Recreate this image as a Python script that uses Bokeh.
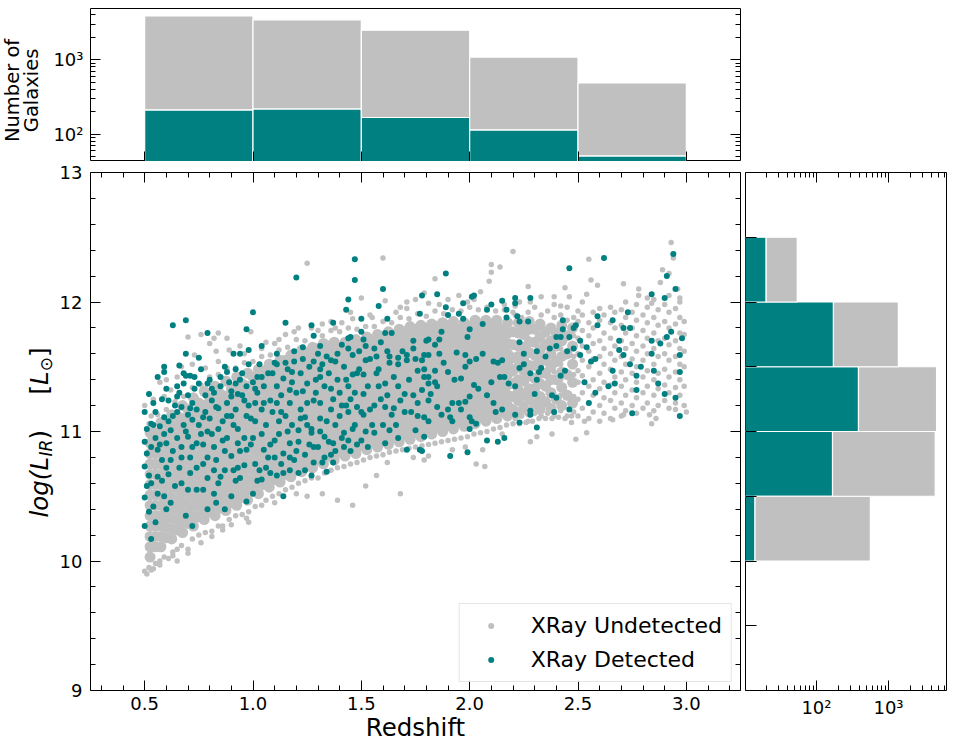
import math
from bokeh.plotting import figure
from bokeh.models import (Range1d, FixedTicker, LinearAxis, LogAxis, Label, Legend,
                          LegendItem, CustomJSTickFormatter, PrintfTickFormatter)
from bokeh.layouts import column, row
from bokeh.embed import file_html
from bokeh.resources import INLINE

GRAY = "#c0c0c0"
TEAL = "#008080"
FONT = "DejaVu Sans"

# ---------------- histogram data ----------------
z_bin_edges = [0.5, 1.0, 1.5, 2.0, 2.5, 3.0]
z_hist_detected = [212, 218, 167, 114, 51]
z_hist_undetected = [3668, 3222, 2323, 969, 435]

lir_bin_edges = [10.0, 10.5, 11.0, 11.5, 12.0, 12.5]
lir_hist_detected = [14, 167, 383, 172, 20]
lir_hist_undetected = [546, 4283, 4267, 1198, 34]

# ---------------- tick values ----------------
x_ticks = [0.5, 1.0, 1.5, 2.0, 2.5, 3.0]
y_ticks = [9, 10, 11, 12, 13]
count_ticks = [100, 1000]
lir_bin_ticks = [9.0, 9.5, 10.0, 10.5, 11.0, 11.5, 12.0, 12.5, 13.0]

# ---------------- scatter: X-ray undetected, dense core (by redshift column) ----------------
undet_core_z = [0.525, 0.55, 0.575, 0.60, 0.625, 0.65, 0.675, 0.70, 0.725, 0.75, 0.775, 0.80,
                0.825, 0.85, 0.875, 0.90, 0.925, 0.95, 0.975, 1.00, 1.025, 1.05, 1.075, 1.10,
                1.125, 1.15, 1.175, 1.20, 1.225, 1.25, 1.275, 1.30, 1.325, 1.35, 1.375, 1.40,
                1.425, 1.45, 1.475, 1.50, 1.525, 1.55, 1.575, 1.60, 1.625, 1.65, 1.675, 1.70,
                1.725, 1.75, 1.775, 1.80, 1.825, 1.85, 1.875, 1.90, 1.925, 1.95, 1.975, 2.00,
                2.025, 2.05, 2.075, 2.10, 2.125, 2.15, 2.175, 2.20, 2.225, 2.25, 2.275, 2.30,
                2.325, 2.35, 2.375, 2.40, 2.425, 2.45, 2.475]
undet_core_L = [
    [10.03, 10.11, 10.19, 10.27, 10.35, 10.43, 10.51, 10.59, 10.67, 10.75, 10.83, 10.91, 10.99],
    [10.11, 10.19, 10.27, 10.35, 10.43, 10.51, 10.59, 10.67, 10.75, 10.83, 10.91, 10.99],
    [10.11, 10.19, 10.27, 10.35, 10.43, 10.51, 10.59, 10.67, 10.75, 10.83, 10.91, 10.99, 11.07],
    [10.18, 10.26, 10.34, 10.42, 10.50, 10.58, 10.66, 10.74, 10.82, 10.90, 10.98, 11.06],
    [10.17, 10.25, 10.33, 10.41, 10.49, 10.57, 10.65, 10.73, 10.81, 10.89, 10.97, 11.05, 11.13],
    [10.24, 10.32, 10.40, 10.48, 10.56, 10.64, 10.72, 10.80, 10.88, 10.96, 11.04, 11.12],
    [10.22, 10.30, 10.38, 10.46, 10.54, 10.62, 10.70, 10.78, 10.86, 10.94, 11.02, 11.10, 11.20],
    [10.29, 10.37, 10.45, 10.53, 10.61, 10.69, 10.77, 10.85, 10.93, 11.01, 11.09, 11.17],
    [10.27, 10.35, 10.43, 10.51, 10.59, 10.67, 10.75, 10.83, 10.91, 10.99, 11.07, 11.15, 11.26],
    [10.34, 10.42, 10.50, 10.58, 10.66, 10.74, 10.82, 10.90, 10.98, 11.06, 11.14, 11.22],
    [10.32, 10.40, 10.48, 10.56, 10.64, 10.72, 10.80, 10.88, 10.96, 11.04, 11.12, 11.20, 11.31],
    [10.38, 10.46, 10.54, 10.62, 10.70, 10.78, 10.86, 10.94, 11.02, 11.10, 11.18, 11.26],
    [10.35, 10.43, 10.51, 10.59, 10.67, 10.75, 10.83, 10.91, 10.99, 11.07, 11.15, 11.23, 11.35],
    [10.41, 10.49, 10.57, 10.65, 10.73, 10.81, 10.89, 10.97, 11.05, 11.13, 11.21, 11.29],
    [10.39, 10.47, 10.55, 10.63, 10.71, 10.79, 10.87, 10.95, 11.03, 11.11, 11.19, 11.27, 11.39],
    [10.45, 10.53, 10.61, 10.69, 10.77, 10.85, 10.93, 11.01, 11.09, 11.17, 11.25, 11.33],
    [10.43, 10.51, 10.59, 10.67, 10.75, 10.83, 10.91, 10.99, 11.07, 11.15, 11.23, 11.31, 11.42],
    [10.49, 10.57, 10.65, 10.73, 10.81, 10.89, 10.97, 11.05, 11.13, 11.21, 11.29, 11.37],
    [10.47, 10.55, 10.63, 10.71, 10.79, 10.87, 10.95, 11.03, 11.11, 11.19, 11.27, 11.35, 11.45],
    [10.54, 10.62, 10.70, 10.78, 10.86, 10.94, 11.02, 11.10, 11.18, 11.26, 11.34, 11.42],
    [10.52, 10.60, 10.68, 10.76, 10.84, 10.92, 11.00, 11.08, 11.16, 11.24, 11.32, 11.40, 11.48],
    [10.59, 10.67, 10.75, 10.83, 10.91, 10.99, 11.07, 11.15, 11.23, 11.31, 11.39, 11.47],
    [10.57, 10.65, 10.73, 10.81, 10.89, 10.97, 11.05, 11.13, 11.21, 11.29, 11.37, 11.45, 11.52],
    [10.63, 10.71, 10.79, 10.87, 10.95, 11.03, 11.11, 11.19, 11.27, 11.35, 11.43, 11.51],
    [10.61, 10.69, 10.77, 10.85, 10.93, 11.01, 11.09, 11.17, 11.25, 11.33, 11.41, 11.49, 11.55],
    [10.67, 10.75, 10.83, 10.91, 10.99, 11.07, 11.15, 11.23, 11.31, 11.39, 11.47, 11.55],
    [10.65, 10.73, 10.81, 10.89, 10.97, 11.05, 11.13, 11.21, 11.29, 11.37, 11.45, 11.53, 11.59],
    [10.71, 10.79, 10.87, 10.95, 11.03, 11.11, 11.19, 11.27, 11.35, 11.43, 11.51, 11.59],
    [10.69, 10.77, 10.85, 10.93, 11.01, 11.09, 11.17, 11.25, 11.33, 11.41, 11.49, 11.57, 11.63],
    [10.75, 10.83, 10.91, 10.99, 11.07, 11.15, 11.23, 11.31, 11.39, 11.47, 11.55, 11.61],
    [10.72, 10.80, 10.88, 10.96, 11.04, 11.12, 11.20, 11.28, 11.36, 11.44, 11.52, 11.60, 11.65],
    [10.78, 10.86, 10.94, 11.02, 11.10, 11.18, 11.26, 11.34, 11.42, 11.50, 11.58, 11.64],
    [10.75, 10.83, 10.91, 10.99, 11.07, 11.15, 11.23, 11.31, 11.39, 11.47, 11.55, 11.63, 11.68],
    [10.81, 10.89, 10.97, 11.05, 11.13, 11.21, 11.29, 11.37, 11.45, 11.53, 11.61, 11.66],
    [10.78, 10.86, 10.94, 11.02, 11.10, 11.18, 11.26, 11.34, 11.42, 11.50, 11.58, 11.66, 11.69],
    [10.84, 10.92, 11.00, 11.08, 11.16, 11.24, 11.32, 11.40, 11.48, 11.56, 11.64],
    [10.81, 10.89, 10.97, 11.05, 11.13, 11.21, 11.29, 11.37, 11.45, 11.53, 11.61, 11.69],
    [10.86, 10.94, 11.02, 11.10, 11.18, 11.26, 11.34, 11.42, 11.50, 11.58, 11.66],
    [10.83, 10.91, 10.99, 11.07, 11.15, 11.23, 11.31, 11.39, 11.47, 11.55, 11.63, 11.71],
    [10.89, 10.97, 11.05, 11.13, 11.21, 11.29, 11.37, 11.45, 11.53, 11.61, 11.69],
    [10.86, 10.94, 11.02, 11.10, 11.18, 11.26, 11.34, 11.42, 11.50, 11.58, 11.66, 11.73],
    [10.91, 10.99, 11.07, 11.15, 11.23, 11.31, 11.39, 11.47, 11.55, 11.63, 11.71],
    [10.88, 10.96, 11.04, 11.12, 11.20, 11.28, 11.36, 11.44, 11.52, 11.60, 11.68, 11.75],
    [10.93, 11.01, 11.09, 11.17, 11.25, 11.33, 11.41, 11.49, 11.57, 11.65, 11.73],
    [10.90, 10.98, 11.06, 11.14, 11.22, 11.30, 11.38, 11.46, 11.54, 11.62, 11.70, 11.77],
    [10.95, 11.03, 11.11, 11.19, 11.27, 11.35, 11.43, 11.51, 11.59, 11.67, 11.75],
    [10.92, 11.00, 11.08, 11.16, 11.24, 11.32, 11.40, 11.48, 11.56, 11.64, 11.72, 11.79],
    [10.97, 11.05, 11.13, 11.21, 11.29, 11.37, 11.45, 11.53, 11.61, 11.69, 11.77],
    [10.94, 11.02, 11.10, 11.18, 11.26, 11.34, 11.42, 11.50, 11.58, 11.66, 11.74, 11.81],
    [10.99, 11.07, 11.15, 11.23, 11.31, 11.39, 11.47, 11.55, 11.63, 11.71, 11.79],
    [10.96, 11.04, 11.12, 11.20, 11.28, 11.36, 11.44, 11.52, 11.60, 11.68, 11.76, 11.82],
    [11.01, 11.09, 11.17, 11.25, 11.33, 11.41, 11.49, 11.57, 11.65, 11.73, 11.80],
    [10.98, 11.06, 11.14, 11.22, 11.30, 11.38, 11.46, 11.54, 11.62, 11.70, 11.78, 11.83],
    [11.03, 11.11, 11.19, 11.27, 11.35, 11.43, 11.51, 11.59, 11.67, 11.75, 11.81],
    [11.00, 11.08, 11.16, 11.24, 11.32, 11.40, 11.48, 11.56, 11.64, 11.72, 11.80, 11.84],
    [11.05, 11.13, 11.21, 11.29, 11.37, 11.45, 11.53, 11.61, 11.69, 11.77, 11.82],
    [11.02, 11.10, 11.18, 11.26, 11.34, 11.42, 11.50, 11.58, 11.66, 11.74, 11.82, 11.85],
    [11.07, 11.15, 11.23, 11.31, 11.39, 11.47, 11.55, 11.63, 11.71, 11.79],
    [11.04, 11.12, 11.20, 11.28, 11.36, 11.44, 11.52, 11.60, 11.68, 11.76, 11.84],
    [11.09, 11.17, 11.25, 11.33, 11.41, 11.49, 11.57, 11.65, 11.73, 11.81],
    [11.06, 11.14, 11.22, 11.30, 11.38, 11.46, 11.54, 11.62, 11.70, 11.78, 11.86],
    [11.11, 11.19, 11.27, 11.35, 11.43, 11.51, 11.59, 11.67, 11.75, 11.83],
    [11.08, 11.16, 11.24, 11.32, 11.40, 11.48, 11.56, 11.64, 11.72, 11.80, 11.86],
    [11.13, 11.21, 11.29, 11.37, 11.45, 11.53, 11.61, 11.69, 11.77, 11.83],
    [11.10, 11.18, 11.26, 11.34, 11.42, 11.50, 11.58, 11.66, 11.74, 11.82, 11.86],
    [11.15, 11.23, 11.31, 11.39, 11.47, 11.55, 11.63, 11.71, 11.79],
    [11.12, 11.20, 11.28, 11.36, 11.44, 11.52, 11.60, 11.68, 11.76, 11.84],
    [11.17, 11.27, 11.37, 11.47, 11.57, 11.67, 11.77],
    [11.14, 11.24, 11.32, 11.40, 11.50, 11.58, 11.66, 11.76, 11.84],
    [11.19, 11.29, 11.39, 11.47, 11.55, 11.65, 11.75, 11.82],
    [11.15, 11.25, 11.33, 11.43, 11.51, 11.61, 11.69, 11.79, 11.85],
    [11.21, 11.33, 11.41, 11.51, 11.59, 11.69, 11.79],
    [11.17, 11.27, 11.37, 11.45, 11.55, 11.63, 11.73, 11.83],
    [11.23, 11.35, 11.45, 11.55, 11.67, 11.77],
    [11.18, 11.30, 11.40, 11.50, 11.60, 11.70, 11.80],
    [11.25, 11.40, 11.54, 11.66, 11.76],
    [11.20, 11.34, 11.46, 11.58, 11.70, 11.82],
    [11.28, 11.44, 11.60, 11.74],
    [11.22, 11.38, 11.52, 11.66, 11.80],
]

# ---------------- scatter: X-ray undetected, sparser high-z part (by column) ----------------
undet_far_z = [2.21, 2.24, 2.27, 2.30, 2.33, 2.36, 2.39, 2.42, 2.45, 2.48,
               2.50, 2.52, 2.55, 2.57, 2.60, 2.62, 2.65, 2.67, 2.70, 2.72,
               2.75, 2.77, 2.80, 2.82, 2.85, 2.87, 2.90, 2.92, 2.95, 2.97, 2.99]
undet_far_L = [
    [11.10, 11.90, 11.97],
    [11.12, 11.30, 11.56, 11.88],
    [11.08, 11.42, 11.72, 11.92],
    [11.14, 11.34, 11.60, 11.96],
    [11.12, 11.22, 11.52, 11.80, 11.90],
    [11.14, 11.36, 11.56, 11.76, 11.93],
    [11.12, 11.25, 11.46, 11.66, 11.88, 11.98],
    [11.16, 11.28, 11.40, 11.52, 11.64, 11.76, 11.90],
    [11.12, 11.30, 11.45, 11.58, 11.72, 11.86, 11.96],
    [11.15, 11.27, 11.44, 11.58, 11.74, 11.88],
    [11.12, 11.25, 11.38, 11.47, 11.60, 11.72, 11.85, 11.93],
    [11.18, 11.30, 11.43, 11.55, 11.66, 11.78, 11.90, 12.00],
    [11.10, 11.22, 11.35, 11.50, 11.62, 11.74, 11.84],
    [11.15, 11.28, 11.40, 11.56, 11.68, 11.80, 11.92],
    [11.08, 11.20, 11.33, 11.45, 11.58, 11.70, 11.86, 11.95],
    [11.14, 11.26, 11.38, 11.52, 11.64, 11.76, 11.90],
    [11.10, 11.24, 11.36, 11.48, 11.60, 11.72, 11.84, 11.96],
    [11.18, 11.30, 11.42, 11.55, 11.66, 11.80, 11.92],
    [11.12, 11.22, 11.35, 11.46, 11.58, 11.70, 11.82, 11.94],
    [11.16, 11.28, 11.40, 11.52, 11.64, 11.76, 11.88, 12.00],
    [11.20, 11.32, 11.45, 11.56, 11.68, 11.80, 11.92],
    [11.14, 11.26, 11.38, 11.50, 11.62, 11.74, 11.86, 11.98],
    [11.18, 11.30, 11.42, 11.55, 11.66, 11.78, 11.90],
    [11.22, 11.35, 11.47, 11.60, 11.72, 11.84, 11.96],
    [11.16, 11.28, 11.40, 11.52, 11.64, 11.76, 11.88, 12.02],
    [11.20, 11.33, 11.45, 11.58, 11.70, 11.82, 11.94],
    [11.24, 11.36, 11.48, 11.60, 11.72, 11.85, 11.98],
    [11.18, 11.30, 11.42, 11.55, 11.67, 11.80, 11.92, 12.05],
    [11.22, 11.34, 11.46, 11.58, 11.70, 11.83, 11.95],
    [11.28, 11.40, 11.52, 11.64, 11.76, 11.88, 12.00],
    [11.20, 11.35, 11.50, 11.62, 11.75, 11.85],
]

# ---------------- scatter: X-ray undetected, upper edge and outliers (z, L) ----------------
undet_upper = [
    (0.52, 11.06), (0.56, 11.13), (0.60, 11.17), (0.64, 11.23), (0.68, 11.27), (0.72, 11.34),
    (0.76, 11.36), (0.80, 11.42), (0.84, 11.44), (0.88, 11.49), (0.92, 11.49), (0.96, 11.53),
    (1.00, 11.54), (1.04, 11.58), (1.08, 11.59), (1.12, 11.63), (1.16, 11.65), (1.20, 11.71),
    (1.24, 11.70), (1.28, 11.74), (1.32, 11.74), (1.36, 11.78), (1.40, 11.77), (1.44, 11.80),
    (1.48, 11.79), (1.52, 11.81), (1.56, 11.81), (1.60, 11.85), (1.64, 11.84), (1.68, 11.88),
    (1.72, 11.87), (1.76, 11.91), (1.80, 11.89), (1.84, 11.93), (1.88, 11.91), (1.92, 11.94),
    (1.96, 11.93), (2.00, 11.96), (2.04, 11.94), (2.08, 11.96), (2.12, 11.93), (2.16, 11.94),
    (2.20, 11.92), (1.25, 12.30), (1.60, 12.34), (1.50, 12.03), (1.61, 12.01), (1.75, 12.02),
    (1.79, 12.07), (1.71, 11.95), (1.46, 11.87), (1.54, 11.90), (1.41, 11.84), (1.36, 11.85),
    (1.19, 11.77), (1.21, 11.80), (0.99, 11.77), (0.94, 11.66), (0.84, 11.76), (0.82, 11.72),
    (0.70, 11.73), (0.73, 11.59), (0.83, 11.62), (0.89, 11.63), (1.06, 11.69), (1.12, 11.71),
    (1.27, 11.80), (1.32, 11.83), (1.45, 11.92), (1.68, 11.96), (1.71, 12.00), (1.81, 11.99),
    (0.50, 11.20), (0.54, 11.25), (0.59, 11.27), (0.57, 11.38), (0.60, 11.40), (0.65, 11.42),
    (0.72, 11.52), (0.78, 11.49), (0.84, 11.54), (0.96, 11.60), (1.04, 11.64), (1.10, 11.68),
    (1.15, 11.75), (2.20, 12.39), (2.55, 12.33), (2.14, 12.27), (2.10, 12.23), (2.09, 12.16),
    (1.84, 12.18), (2.27, 12.12), (2.44, 12.11), (2.56, 12.17), (2.59, 12.13), (2.54, 12.06),
    (2.71, 12.14), (2.78, 12.10), (2.88, 12.15), (2.93, 12.46), (2.94, 12.34), (2.89, 12.25),
    (2.92, 12.22), (2.96, 12.10), (2.97, 12.03), (2.82, 12.03), (2.78, 12.05), (2.84, 11.99),
    (2.46, 12.04), (2.39, 12.04), (2.42, 11.97), (2.33, 12.04), (2.28, 12.00), (2.23, 12.00),
    (2.10, 12.29), (1.95, 12.05), (2.05, 12.08), (1.90, 12.02), (1.66, 11.92), (1.55, 11.88),
    (0.88, 11.72), (0.76, 11.75), (0.80, 11.68), (0.67, 11.50), (0.62, 11.32), (0.53, 11.12),
    (1.30, 11.78), (1.38, 11.80), (1.86, 11.98), (1.99, 12.00), (2.02, 12.02), (2.16, 11.98),
]

# ---------------- scatter: X-ray undetected, lower edge and outliers (z, L) ----------------
undet_lower = [
    (0.50, 9.92), (0.51, 9.90), (0.52, 9.95), (0.53, 9.93), (0.55, 9.98), (0.57, 10.00),
    (0.59, 10.03), (0.61, 10.02), (0.63, 10.07), (0.65, 10.09), (0.67, 10.12), (0.70, 10.09),
    (0.72, 10.17), (0.75, 10.20), (0.78, 10.22), (0.81, 10.23), (0.84, 10.27), (0.86, 10.27),
    (0.89, 10.32), (0.92, 10.35), (0.95, 10.36), (0.98, 10.38), (1.01, 10.42), (1.04, 10.43),
    (1.06, 10.47), (1.09, 10.50), (1.12, 10.52), (1.15, 10.55), (1.18, 10.57), (1.21, 10.60),
    (1.24, 10.62), (1.27, 10.64), (1.30, 10.64), (1.33, 10.68), (1.36, 10.70), (1.39, 10.72),
    (1.42, 10.73), (1.45, 10.75), (1.48, 10.76), (1.51, 10.78), (1.54, 10.80), (1.57, 10.81),
    (1.60, 10.82), (1.63, 10.84), (1.66, 10.85), (1.69, 10.86), (1.72, 10.87), (1.75, 10.88),
    (1.78, 10.89), (1.81, 10.90), (1.84, 10.91), (1.87, 10.92), (1.90, 10.93), (1.93, 10.94),
    (1.96, 10.95), (1.99, 10.96), (2.02, 10.98), (2.05, 10.99), (2.08, 11.00), (2.11, 11.02),
    (2.14, 11.03), (2.17, 11.05), (2.20, 11.06), (2.23, 11.06), (2.26, 11.07), (2.29, 11.08),
    (2.32, 11.10), (2.35, 11.10), (2.38, 11.10), (2.41, 11.11), (2.44, 11.10), (2.47, 11.12),
    (1.57, 10.66), (1.68, 10.52), (1.46, 10.43), (1.39, 10.47), (1.32, 10.52), (1.25, 10.50),
    (1.52, 10.58), (0.97, 10.33), (0.90, 10.28), (0.86, 10.24), (0.81, 10.19), (0.70, 10.06),
    (0.63, 10.04), (0.57, 9.97), (0.65, 10.00), (0.98, 10.30), (2.07, 10.73), (2.03, 10.75),
    (2.06, 10.86), (1.92, 10.86), (1.81, 10.81), (1.79, 10.78), (2.28, 10.92), (2.31, 10.96),
    (2.38, 10.98), (2.49, 10.94), (2.54, 10.99), (2.47, 11.07), (2.53, 11.08), (2.66, 11.09),
    (2.71, 11.13), (2.83, 11.13), (2.84, 11.06), (2.86, 11.10), (3.00, 11.15), (2.95, 11.17),
    (1.10, 10.45), (1.20, 10.52), (1.62, 10.76), (1.74, 10.80), (1.98, 10.88), (2.15, 10.98),
    (0.76, 10.14), (0.54, 9.94),
]

# ---------------- scatter: X-ray detected (z, L) ----------------
det_lowz = [
    (1.47, 12.33), (1.20, 12.19), (1.47, 12.17), (1.60, 12.10), (1.44, 12.02), (1.43, 11.94),
    (1.58, 11.97), (1.62, 11.87), (1.50, 11.87), (1.00, 11.92), (0.69, 11.86), (0.63, 11.82),
    (0.79, 11.76), (0.97, 11.79), (1.15, 11.84), (1.27, 11.82), (1.37, 11.84), (1.78, 12.05),
    (1.77, 11.91), (1.50, 11.77), (1.45, 11.73), (1.51, 11.71), (1.28, 11.74), (1.61, 11.76),
    (1.64, 11.76), (1.59, 11.69), (1.04, 11.66), (0.98, 11.63), (0.94, 11.60), (0.91, 11.60),
    (0.69, 11.60), (0.75, 11.57), (1.31, 11.66), (1.34, 11.58), (1.41, 11.67), (1.39, 11.60),
    (1.44, 11.64), (1.46, 11.59), (1.52, 11.66), (1.56, 11.64), (1.80, 11.70), (1.79, 11.59),
    (1.74, 11.64), (1.71, 11.59), (1.67, 11.57), (1.63, 11.58), (0.52, 11.29), (0.56, 11.42),
    (0.59, 11.50), (0.59, 11.46), (0.66, 11.51), (0.69, 11.43), (0.68, 11.37), (0.75, 11.37),
    (0.71, 11.43), (0.73, 11.42), (0.88, 11.46), (0.92, 11.37), (0.94, 11.40), (1.02, 11.42),
    (1.04, 11.42), (1.10, 11.53), (1.11, 11.52), (1.15, 11.53), (1.19, 11.54), (1.18, 11.46),
    (1.23, 11.56), (1.28, 11.54), (1.32, 11.52), (1.31, 11.48), (1.38, 11.54), (1.43, 11.40),
    (1.46, 11.44), (1.48, 11.45), (1.51, 11.44), (1.54, 11.56), (1.57, 11.58), (1.63, 11.53),
    (1.67, 11.52), (1.71, 11.55), (1.75, 11.56), (1.76, 11.47), (1.79, 11.42), (1.81, 11.37),
    (1.58, 11.35), (1.61, 11.37), (1.67, 11.35), (1.70, 11.29), (1.74, 11.28), (1.78, 11.32),
    (1.51, 11.29), (1.44, 11.35), (1.36, 11.33), (1.31, 11.42), (1.25, 11.37), (1.23, 11.31),
    (1.17, 11.32), (1.14, 11.41), (1.11, 11.35), (1.05, 11.35), (1.01, 11.33), (0.97, 11.35),
    (0.93, 11.29), (0.90, 11.31), (0.85, 11.35), (0.81, 11.33), (0.79, 11.37), (0.65, 11.35),
    (0.60, 11.33), (0.65, 11.27), (0.70, 11.28), (0.67, 11.19), (0.65, 11.15), (0.70, 11.13),
    (0.72, 11.09), (0.77, 11.11), (0.74, 11.17), (0.81, 11.24), (0.83, 11.19), (0.88, 11.22),
    (0.90, 11.27), (0.92, 11.17), (0.96, 11.24), (0.98, 11.20), (1.01, 11.22), (1.04, 11.17),
    (1.08, 11.24), (1.11, 11.22), (1.13, 11.15), (1.17, 11.22), (1.22, 11.17), (1.24, 11.11),
    (1.28, 11.24), (1.31, 11.22), (1.36, 11.17), (1.41, 11.20), (1.44, 11.15), (1.48, 11.19),
    (1.51, 11.13), (1.54, 11.17), (1.61, 11.19), (1.64, 11.13), (1.68, 11.24), (1.73, 11.15),
    (1.76, 11.22), (1.79, 11.11), (1.81, 11.24), (0.59, 11.11), (0.54, 11.22), (0.50, 11.15),
    (0.53, 11.06), (0.57, 11.04), (0.62, 11.01), (0.50, 10.92), (0.51, 10.83), (0.50, 10.73),
    (0.56, 10.86), (0.60, 10.91), (0.67, 10.88), (0.70, 10.96), (0.74, 10.91), (0.79, 11.00),
    (0.82, 10.88), (0.86, 10.93), (0.90, 10.81), (0.93, 10.91), (0.97, 10.86), (1.00, 10.95),
    (1.05, 10.86), (1.10, 10.93), (1.14, 10.83), (1.17, 10.91), (1.21, 11.01), (1.27, 10.99),
    (1.30, 10.88), (1.33, 10.96), (1.37, 10.91), (1.42, 10.99), (1.45, 10.85), (1.50, 10.93),
    (1.56, 10.99), (1.61, 10.91), (1.67, 10.95), (1.71, 10.86), (1.75, 11.01), (1.77, 10.86),
    (0.56, 10.65), (0.51, 10.58), (0.50, 10.49), (0.54, 10.42), (0.59, 10.50), (0.61, 10.67),
    (0.67, 10.60), (0.71, 10.68), (0.74, 10.55), (0.79, 10.64), (0.84, 10.60), (0.87, 10.70),
    (0.90, 10.50), (0.94, 10.64), (0.97, 10.46), (1.00, 10.52), (1.04, 10.63), (1.08, 10.68),
    (1.14, 10.50), (1.17, 10.70), (1.21, 10.68), (1.24, 10.70), (1.28, 10.76), (1.34, 10.69),
    (1.37, 10.76), (0.50, 10.27), (0.53, 10.17), (0.72, 10.27), (0.79, 10.40), (0.87, 10.40),
    (0.82, 10.52),
]
det_midz = [
    (0.55, 10.95), (0.58, 10.78), (0.61, 11.08), (0.63, 10.85), (0.64, 11.20), (0.66, 10.72),
    (0.68, 11.05), (0.71, 10.80), (0.72, 11.22), (0.76, 10.98), (0.77, 10.75), (0.78, 11.28),
    (0.80, 11.10), (0.82, 10.70), (0.84, 11.02), (0.85, 11.42), (0.87, 10.85), (0.88, 11.12),
    (0.91, 11.05), (0.92, 10.62), (0.95, 11.45), (0.96, 10.95), (0.99, 11.10), (1.01, 10.75),
    (1.02, 11.30), (1.06, 11.05), (1.07, 10.80), (1.09, 11.45), (1.12, 11.08), (1.13, 10.75),
    (1.16, 11.00), (1.18, 11.38), (1.20, 10.85), (1.22, 11.45), (1.25, 11.05), (1.26, 10.90),
    (1.29, 11.30), (1.31, 11.10), (1.33, 10.80), (1.35, 11.45), (1.38, 11.05), (1.40, 11.30),
    (1.42, 10.88), (1.45, 11.25), (1.47, 11.05), (1.49, 11.62), (1.52, 11.00), (1.53, 11.35),
    (1.56, 11.20), (1.58, 11.48), (1.60, 11.05), (1.62, 11.28), (1.65, 11.42), (1.66, 11.05),
    (1.69, 11.62), (1.70, 11.15), (1.72, 11.40), (1.74, 11.70), (1.76, 11.12), (1.78, 11.55),
    (0.62, 10.45), (0.69, 10.35), (0.77, 10.55), (0.83, 10.45), (0.93, 10.72), (1.03, 10.70),
    (1.11, 10.66), (1.19, 10.78), (1.27, 10.66), (1.36, 10.82), (1.44, 10.93), (1.53, 10.88),
    (1.63, 11.01), (0.53, 10.60), (0.52, 10.38), (0.55, 10.30), (0.54, 11.05), (0.57, 10.90),
    (0.60, 10.72),
]
det_extra = [
    (0.51, 11.02), (0.52, 10.66), (0.53, 10.88), (0.55, 11.15), (0.56, 10.52), (0.58, 11.25),
    (0.58, 10.62), (0.59, 10.98), (0.60, 10.40), (0.61, 11.24), (0.62, 10.78), (0.63, 11.12),
    (0.64, 10.58), (0.65, 10.95), (0.66, 11.30), (0.67, 10.80), (0.68, 11.45), (0.69, 11.00),
    (0.70, 10.55), (0.71, 11.18), (0.72, 10.88), (0.73, 11.33), (0.74, 10.72), (0.75, 11.05),
    (0.76, 11.48), (0.77, 10.90), (0.78, 11.15), (0.79, 10.80), (0.80, 11.40), (0.81, 10.98),
    (0.82, 11.30), (0.83, 10.78), (0.84, 11.18), (0.85, 10.65), (0.86, 11.08), (0.87, 11.50),
    (0.88, 10.95), (0.89, 11.38), (0.90, 11.12), (0.91, 10.70), (0.92, 11.48), (0.93, 11.02),
    (0.94, 10.85), (0.95, 11.28), (0.96, 10.74), (0.97, 11.12), (0.98, 11.52), (0.99, 10.90),
    (1.00, 11.38), (1.01, 11.08), (1.02, 10.62), (1.03, 11.52), (1.04, 10.98), (1.05, 11.22),
    (1.06, 10.72), (1.07, 11.45), (1.08, 10.90), (1.09, 11.15), (1.10, 10.80), (1.11, 11.60),
    (1.12, 10.98), (1.13, 11.28), (1.14, 10.68), (1.15, 11.12), (1.16, 11.48), (1.17, 10.80),
    (1.18, 11.05), (1.19, 11.62), (1.20, 11.30), (1.21, 10.92), (1.22, 11.10), (1.23, 11.65),
    (1.24, 10.82), (1.25, 11.22), (1.26, 11.50), (1.27, 11.02), (1.28, 10.88), (1.29, 11.40),
    (1.30, 11.60), (1.31, 11.00), (1.32, 10.76), (1.33, 11.35), (1.34, 11.08), (1.35, 10.92),
    (1.36, 11.55), (1.37, 11.25), (1.38, 10.85), (1.39, 11.40), (1.40, 11.12), (1.41, 10.95),
    (1.42, 11.50), (1.43, 11.20), (1.44, 11.72), (1.46, 11.02), (1.47, 11.30), (1.48, 10.90),
    (1.49, 11.48), (1.50, 11.15), (1.52, 11.55), (1.55, 11.05), (1.57, 11.45), (1.59, 11.25),
    (1.62, 11.62), (1.65, 11.18),
]
det_highz = [
    (2.62, 12.34), (2.46, 12.26), (2.94, 12.37), (2.91, 12.20), (2.95, 12.10), (2.90, 12.03),
    (2.84, 12.06), (2.73, 11.92), (2.66, 11.86), (2.59, 11.89), (2.59, 11.82), (2.71, 11.80),
    (2.74, 11.80), (2.93, 11.77), (2.98, 11.72), (2.91, 11.73), (2.84, 11.70), (2.88, 11.68),
    (2.84, 11.60), (2.97, 11.59), (2.97, 11.46), (2.85, 11.47), (2.87, 11.37), (2.90, 11.29),
    (2.95, 11.26), (2.97, 11.12), (2.77, 11.32), (2.77, 11.43), (2.79, 11.50), (2.74, 11.52),
    (2.71, 11.59), (2.69, 11.70), (2.69, 11.63), (2.66, 11.47), (2.67, 11.37), (2.75, 11.14),
    (2.64, 11.35), (2.58, 11.30), (2.55, 11.22), (2.58, 11.56), (2.56, 11.54), (2.53, 11.38),
    (2.51, 11.70), (2.54, 11.65), (2.49, 11.82), (2.48, 11.80), (2.46, 11.73), (2.43, 11.86),
    (2.43, 11.79), (2.42, 11.73), (2.40, 11.73), (2.40, 11.66), (2.45, 11.62), (2.48, 11.64),
    (2.51, 11.59), (2.44, 11.47), (2.42, 11.43), (2.46, 11.17), (2.39, 11.15), (2.40, 11.26),
    (2.38, 11.28), (2.37, 11.64), (2.35, 11.58), (2.31, 11.62), (2.31, 11.40), (2.30, 11.29),
    (2.31, 11.03), (2.28, 11.13), (2.28, 11.16), (2.23, 11.07), (2.21, 11.13), (2.33, 11.49),
    (2.32, 11.46), (2.28, 11.45), (2.25, 11.52), (2.25, 11.60), (2.23, 11.69), (2.23, 11.49),
    (2.21, 11.35), (2.18, 11.37), (2.16, 11.42), (2.15, 11.55), (2.13, 11.53), (2.11, 11.54),
    (2.10, 11.38), (2.14, 11.42), (2.11, 11.22), (2.12, 11.15), (2.15, 11.17), (2.08, 11.28),
    (2.06, 11.60), (2.03, 11.56), (2.04, 11.33), (2.02, 11.36), (2.00, 11.27), (1.98, 11.23),
    (1.95, 11.22), (1.92, 11.22), (1.96, 11.17), (2.00, 11.11), (2.03, 11.06), (2.01, 11.08),
    (2.00, 11.02), (2.08, 10.93), (2.13, 10.92), (2.16, 10.95), (1.99, 10.84), (1.91, 10.81),
    (1.79, 10.96), (1.97, 11.87), (2.00, 11.79), (1.99, 11.73), (2.08, 11.94), (2.10, 11.98),
    (2.15, 12.01), (2.21, 11.99), (2.21, 12.03), (2.17, 11.94), (2.17, 11.88), (2.22, 11.89),
    (2.23, 11.85), (2.27, 11.85), (2.28, 12.03), (2.06, 11.83), (2.02, 12.05), (2.01, 12.04),
    (1.89, 12.22), (1.85, 12.06), (1.89, 11.96), (1.90, 11.90), (1.97, 11.99), (1.95, 11.91),
    (1.87, 11.77), (1.86, 11.71), (1.84, 11.67), (1.81, 11.71), (1.81, 11.59), (1.86, 11.60),
    (1.94, 11.61), (1.98, 11.59), (1.98, 11.50), (2.00, 11.54), (1.96, 11.41), (1.93, 11.40),
    (1.90, 11.46), (1.88, 11.53), (1.84, 11.47), (1.79, 11.48), (1.81, 11.42), (1.84, 11.38),
    (1.85, 11.35), (1.82, 11.29), (1.85, 11.19), (1.87, 11.13), (1.81, 11.08), (1.90, 11.17),
    (1.91, 11.11), (1.92, 11.08), (1.78, 10.85),
]

# ---------------- label texts ----------------
x_label = "Redshift"
top_label_lines = ["Number of", "Galaxies"]
legend_labels = ["XRay Undetected", "XRay Detected"]


# ---------------- helpers ----------------
def flat_columns(zs, Ls):
    xs = [z for z, col in zip(zs, Ls) for _ in col]
    ys = [v for col in Ls for v in col]
    return xs, ys


def pairs(lst):
    return [p[0] for p in lst], [p[1] for p in lst]


def style_axis(ax, major=10, minor=5, labels=False, size="18px", standoff=6):
    ax.axis_line_color = None
    ax.major_tick_in = major
    ax.major_tick_out = 0
    ax.minor_tick_in = minor
    ax.minor_tick_out = 0
    ax.major_tick_line_color = "black"
    ax.minor_tick_line_color = "black"
    ax.major_tick_line_width = 1
    ax.minor_tick_line_width = 1
    if labels:
        ax.major_label_text_font = FONT
        ax.major_label_text_font_size = size
        ax.major_label_text_color = "black"
        ax.major_label_standoff = standoff
    else:
        ax.major_label_text_font_size = "0px"
        ax.major_label_standoff = 0
        ax.formatter = CustomJSTickFormatter(code="return '';")


def base_style(p):
    p.grid.visible = False
    p.outline_line_color = "black"
    p.outline_line_width = 1
    p.background_fill_color = "white"
    p.border_fill_color = "white"


def blank_fig(width, height, y_range, top_border, y_type="linear"):
    f = figure(frame_width=width, frame_height=height, min_border_left=0, min_border_right=0,
               min_border_top=top_border, min_border_bottom=0,
               x_range=Range1d(0, width), y_range=y_range, y_axis_type=y_type,
               x_axis_location=None, y_axis_location=None,
               output_backend="svg", toolbar_location=None)
    f.grid.visible = False
    f.outline_line_color = None
    f.background_fill_color = "white"
    f.border_fill_color = "white"
    return f


x_minor = [round(0.1 * i, 1) for i in range(3, 33) if i % 5 != 0]
y_minor = [round(9 + 0.2 * i, 1) for i in range(1, 20) if i % 5 != 0]
log_minor = [k * 10 ** e for e in (1, 2, 3) for k in range(2, 10)]
pow_fmt = "return tick > 500 ? '10\u00b3' : '10\u00b2';"

TOP_FRAME_H = 153
MAIN_TOP = 11
MAIN_FRAME_H = 518

# ---------------- main scatter ----------------
main = figure(frame_width=650, frame_height=MAIN_FRAME_H, min_border_left=34, min_border_right=5,
              min_border_top=MAIN_TOP, min_border_bottom=54,
              x_range=Range1d(0.25, 3.25), y_range=Range1d(9, 13),
              output_backend="svg", toolbar_location=None)
base_style(main)

ax = main.xaxis[0]
ax.ticker = FixedTicker(ticks=x_ticks, minor_ticks=x_minor)
style_axis(ax, labels=True, standoff=6)
ax.formatter = PrintfTickFormatter(format="%.1f")
ax.axis_label = x_label
ax.axis_label_text_font = FONT
ax.axis_label_text_font_size = "24.5px"
ax.axis_label_text_font_style = "normal"
ax.axis_label_text_color = "black"
ax.axis_label_standoff = 0
ay = main.yaxis[0]
ay.ticker = FixedTicker(ticks=y_ticks, minor_ticks=y_minor)
style_axis(ay, labels=True, standoff=8)
ay.formatter = PrintfTickFormatter(format="%d")
top_ax = LinearAxis(ticker=FixedTicker(ticks=x_ticks, minor_ticks=x_minor))
style_axis(top_ax)
main.add_layout(top_ax, "above")
right_ax = LinearAxis(ticker=FixedTicker(ticks=y_ticks, minor_ticks=y_minor))
style_axis(right_ax)
main.add_layout(right_ax, "right")

cz, cl = flat_columns(undet_core_z, undet_core_L)
main.scatter(cz, cl, size=11, fill_color=GRAY, line_color=None)
fz, fl = flat_columns(undet_far_z, undet_far_L)
main.scatter(fz, fl, size=5.5, fill_color=GRAY, line_color=None)
uz, ul = pairs(undet_upper)
r_gray = main.scatter(uz, ul, size=5.5, fill_color=GRAY, line_color=None)
lz, ll = pairs(undet_lower)
main.scatter(lz, ll, size=5.5, fill_color=GRAY, line_color=None)
dz, dl = pairs(det_lowz + det_midz + det_extra + det_highz)
r_teal = main.scatter(dz, dl, size=6, fill_color=TEAL, line_color=None)

legend = Legend(items=[LegendItem(label=legend_labels[0], renderers=[r_gray]),
                       LegendItem(label=legend_labels[1], renderers=[r_teal])],
                location="bottom_right")
legend.label_text_font = FONT
legend.label_text_font_size = "22px"
legend.label_text_color = "black"
legend.glyph_width = 44
legend.glyph_height = 15
legend.label_height = 15
legend.label_standoff = 18
legend.padding = 9
legend.spacing = 9
legend.margin = 8
legend.border_line_color = "#cccccc"
legend.border_line_width = 1
legend.background_fill_color = "white"
legend.background_fill_alpha = 0.8
main.add_layout(legend)

# y-axis label of the scatter, drawn in its own narrow panel (mixed italic / subscript)
ylab = blank_fig(56, MAIN_FRAME_H, main.y_range, MAIN_TOP)
ylabel_parts = [
    ("log(L", 38.5, 10.336, "24.5px", "italic"),
    ("IR", 45, 10.807, "17px", "italic"),
    (")", 38.5, 10.938, "24.5px", "normal"),
    ("[", 38.5, 11.286, "24.5px", "normal"),
    ("L", 38.5, 11.360, "24.5px", "italic"),
    ("\u2299", 45, 11.466, "17px", "normal"),
    ("]", 38.5, 11.576, "24.5px", "normal"),
]
for txt, xx, yy, fs, st in ylabel_parts:
    ylab.add_layout(Label(x=xx, y=yy, text=txt, text_font=FONT, text_font_size=fs,
                          text_font_style=st, angle=math.pi / 2, text_align="left",
                          text_baseline="middle", text_color="black"))

# ---------------- top histogram ----------------
top_range = Range1d(42.8, 4877)
top = figure(frame_width=650, frame_height=TOP_FRAME_H, min_border_left=42, min_border_right=1,
             min_border_top=8, min_border_bottom=0,
             x_range=main.x_range, y_range=top_range, y_axis_type="log",
             output_backend="svg", toolbar_location=None)
base_style(top)
tx = top.xaxis[0]
tx.ticker = FixedTicker(ticks=x_ticks, minor_ticks=[])
style_axis(tx, major=10)
ty = top.yaxis[0]
ty.ticker = FixedTicker(ticks=count_ticks, minor_ticks=log_minor)
style_axis(ty, labels=True, standoff=7)
ty.formatter = CustomJSTickFormatter(code=pow_fmt)
ty_r = LogAxis(ticker=FixedTicker(ticks=count_ticks, minor_ticks=log_minor))
style_axis(ty_r)
top.add_layout(ty_r, "right")

z_tot = [d + u for d, u in zip(z_hist_detected, z_hist_undetected)]
top.quad(left=z_bin_edges[:-1], right=z_bin_edges[1:], bottom=[1] * 5, top=z_hist_detected,
         fill_color=TEAL, line_color="white", line_width=1.2)
top.quad(left=z_bin_edges[:-1], right=z_bin_edges[1:], bottom=z_hist_detected, top=z_tot,
         fill_color=GRAY, line_color="white", line_width=1.2)

toplab = blank_fig(48, TOP_FRAME_H, top_range, 8, y_type="log")
for txt, xx in zip(top_label_lines, (12, 31)):
    toplab.add_layout(Label(x=xx, y=386, text=txt, text_font=FONT, text_font_size="19.5px",
                            angle=math.pi / 2, text_align="center", text_baseline="middle",
                            text_color="black"))

# ---------------- right histogram ----------------
rgt = figure(frame_width=201, frame_height=MAIN_FRAME_H, min_border_left=0, min_border_right=1,
             min_border_top=MAIN_TOP, min_border_bottom=46,
             x_range=Range1d(10.33, 6390), y_range=main.y_range, x_axis_type="log",
             output_backend="svg", toolbar_location=None)
base_style(rgt)
rx = rgt.xaxis[0]
rx.ticker = FixedTicker(ticks=count_ticks, minor_ticks=log_minor)
style_axis(rx, labels=True, standoff=6)
rx.formatter = CustomJSTickFormatter(code=pow_fmt)
rx_t = LogAxis(ticker=FixedTicker(ticks=count_ticks, minor_ticks=log_minor))
style_axis(rx_t)
rgt.add_layout(rx_t, "above")
ry = rgt.yaxis[0]
ry.ticker = FixedTicker(ticks=lir_bin_ticks, minor_ticks=[])
style_axis(ry, major=11)

l_tot = [d + u for d, u in zip(lir_hist_detected, lir_hist_undetected)]
rgt.quad(left=[1] * 5, right=lir_hist_detected, bottom=lir_bin_edges[:-1], top=lir_bin_edges[1:],
         fill_color=TEAL, line_color="white", line_width=1.2)
rgt.quad(left=lir_hist_detected, right=l_tot, bottom=lir_bin_edges[:-1], top=lir_bin_edges[1:],
         fill_color=GRAY, line_color="white", line_width=1.2)

layout = column(row(toplab, top), row(ylab, main, rgt))
open("out.html", "w").write(file_html(layout, INLINE, title="Redshift vs LIR"))
